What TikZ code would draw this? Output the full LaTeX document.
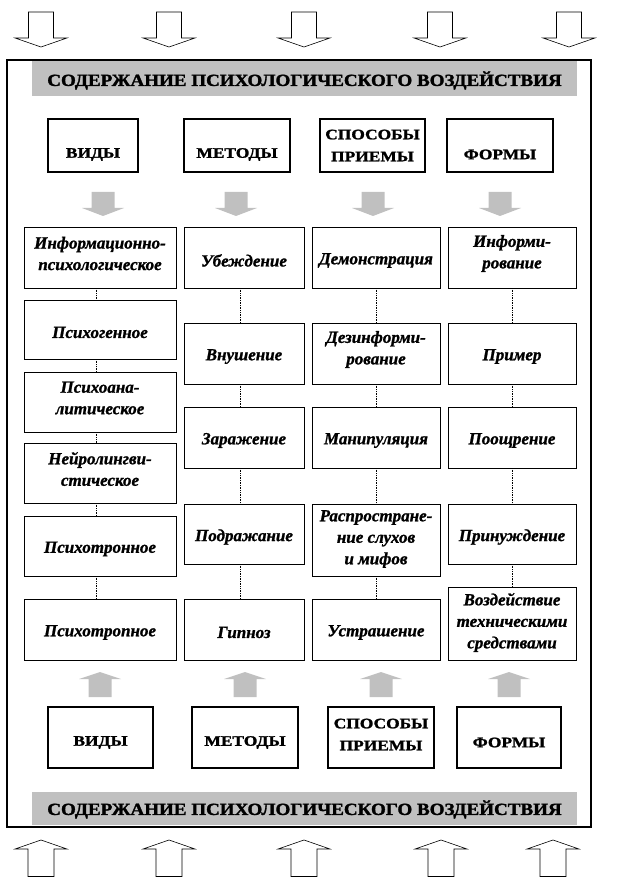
\documentclass[tikz,border=0pt]{standalone}
\usepackage{fontspec}
\setmainfont{Liberation Serif}[BoldItalicFeatures={FakeBold=1.2}]
\newfontfamily\hdrfont{Liberation Serif}[FakeStretch=1.2, BoldFeatures={FakeBold=1.5}]
\newfontfamily\barfont{Liberation Serif}[FakeStretch=1.12, BoldFeatures={FakeBold=1.8}]
\definecolor{barg}{RGB}{192,192,192}
% #1 box style, #2..#5 corners, #6 name, #7 text shift (pt, up), #8 text
\newcommand\placebox[8][box]{%
  \node[#1, minimum width={(#4-#2)*1pt}, minimum height={(#5-#3)*1pt}] (#6) at ({(#2+#4)/2},{(#3+#5)/2}) {};
  \node[#1 text] (#6t) at ([yshift=#7pt]#6.center) {#8};}
\begin{document}
\begin{tikzpicture}[x=1pt,y=-1pt,
  box/.style={draw, line width=0.5pt, fill=white, inner sep=0pt, outer sep=0pt},
  box text/.style={inner sep=0pt, align=center, font=\fontsize{17}{21.5}\selectfont\bfseries\itshape},
  hdr/.style={draw, line width=1.5pt, fill=white, inner sep=0pt, outer sep=0pt},
  hdr text/.style={inner sep=0pt, align=center, font=\hdrfont\fontsize{14.5}{22}\selectfont\bfseries},
  bar/.style={fill=barg, inner sep=0pt, outer sep=0pt},
  bar text/.style={inner sep=0pt, font=\barfont\fontsize{17}{22}\selectfont\bfseries},
  link/.style={densely dotted, line width=0.7pt},
  outdown/.pic={\draw[line width=0.6pt, fill=white] (-12.5,12) -- (12.5,12) -- (12.5,38) -- (26,38) -- (0,47) -- (-26,38) -- (-12.5,38) -- cycle;},
  outup/.pic={\draw[line width=0.6pt, fill=white] (-13,876.5) -- (13,876.5) -- (13,849) -- (26,849) -- (0,840) -- (-26,849) -- (-13,849) -- cycle;},
  graydown/.pic={\fill[barg] (-11.5,192) -- (11.5,192) -- (11.5,208) -- (21,208) -- (0,216) -- (-21,208) -- (-11.5,208) -- cycle;},
  grayup/.pic={\fill[barg] (-11.5,697) -- (11.5,697) -- (11.5,679) -- (21,679) -- (0,672) -- (-21,679) -- (-11.5,679) -- cycle;}
]
\useasboundingbox (0,0) rectangle (616,877);
% outer arrows
\foreach \x in {41,169,304,440,569} \pic at (\x,0) {outdown};
\foreach \x in {41,169,304,441,553} \pic at (\x,0) {outup};
% title bars
\placebox[bar]{32}{61}{577}{96}{t1}{-2}{СОДЕРЖАНИЕ ПСИХОЛОГИЧЕСКОГО ВОЗДЕЙСТВИЯ}
\placebox[bar]{32}{792}{577}{825}{t2}{-1}{СОДЕРЖАНИЕ ПСИХОЛОГИЧЕСКОГО ВОЗДЕЙСТВИЯ}
% frame
\draw[line width=1.5pt] (7,60) rectangle (591,827);
% top headers
\placebox[hdr]{48}{119}{138}{172}{h1}{-9}{ВИДЫ}
\placebox[hdr]{184}{119}{290}{172}{h2}{-9}{МЕТОДЫ}
\placebox[hdr]{320}{119}{425}{172}{h3}{0}{СПОСОБЫ\\ПРИЕМЫ}
\placebox[hdr]{447}{119}{553}{172}{h4}{-9}{ФОРМЫ}
% bottom headers
\placebox[hdr]{48}{707}{153}{768}{b1}{-5}{ВИДЫ}
\placebox[hdr]{192}{707}{298}{768}{b2}{-5}{МЕТОДЫ}
\placebox[hdr]{328}{707}{434}{768}{b3}{3}{СПОСОБЫ\\ПРИЕМЫ}
\placebox[hdr]{457}{707}{561}{768}{b4}{-5}{ФОРМЫ}
% gray arrows
\foreach \x in {103,236,373,500} \pic at (\x,0) {graydown};
\foreach \x in {100,245,381,509} \pic at (\x,0) {grayup};
% column 1
\placebox{24}{227}{176}{288}{a1}{4}{Информационно-\\психологическое}
\placebox{24}{300}{176}{359}{a2}{-3}{Психогенное}
\placebox{24}{372}{176}{432}{a3}{4}{Психоана-\\литическое}
\placebox{24}{443}{176}{503}{a4}{4}{Нейролингви-\\стическое}
\placebox{24}{516}{176}{576}{a5}{-3}{Психотронное}
\placebox{24}{599}{176}{660}{a6}{-3}{Психотропное}
% column 2
\placebox{184}{227}{304}{288}{m1}{-3}{Убеждение}
\placebox{184}{323}{304}{384}{m2}{-3}{Внушение}
\placebox{184}{407}{304}{468}{m3}{-3}{Заражение}
\placebox{184}{504}{304}{564}{m4}{-3}{Подражание}
\placebox{184}{599}{304}{660}{m5}{-3}{Гипноз}
% column 3
\placebox{312}{227}{440}{288}{s1}{-3}{Демонстрация}
\placebox{312}{323}{440}{384}{s2}{4}{Дезинформи-\\рование}
\placebox{312}{407}{440}{468}{s3}{-3}{Манипуляция}
\placebox{312}{504}{440}{576}{s4}{1}{Распростране-\\ние слухов\\и мифов}
\placebox{312}{599}{440}{660}{s5}{-3}{Устрашение}
% column 4
\placebox{448}{227}{576}{288}{f1}{4}{Информи-\\рование}
\placebox{448}{323}{576}{384}{f2}{-3}{Пример}
\placebox{448}{407}{576}{468}{f3}{-3}{Поощрение}
\placebox{448}{504}{576}{564}{f4}{-3}{Принуждение}
\placebox{448}{587}{576}{660}{f5}{1}{Воздействие\\техническими\\средствами}
% connectors
\foreach \p/\q in {a1/a2,a2/a3,a3/a4,a4/a5,a5/a6,m1/m2,m2/m3,m3/m4,m4/m5}
  \draw[link] ([xshift=-4pt]\p.south) -- ([xshift=-4pt]\q.north);
\foreach \p/\q in {s1/s2,s2/s3,s3/s4,s4/s5,f1/f2,f2/f3,f3/f4,f4/f5}
  \draw[link] (\p.south) -- (\q.north);
\end{tikzpicture}
\end{document}
